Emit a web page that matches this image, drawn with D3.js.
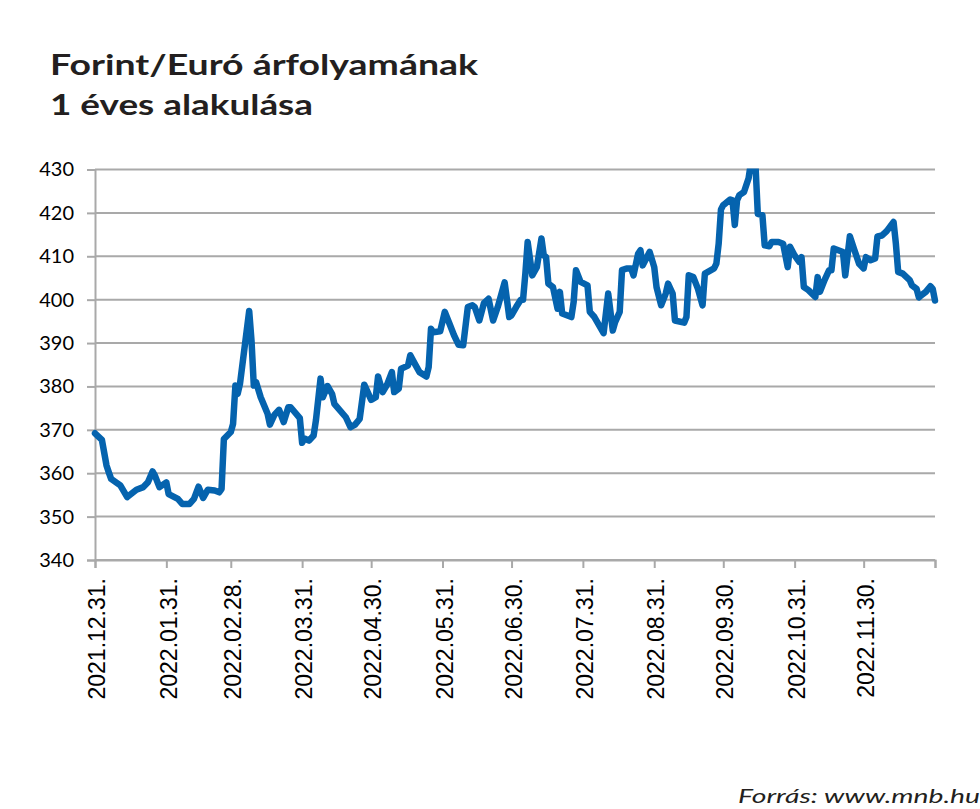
<!DOCTYPE html>
<html>
<head>
<meta charset="utf-8">
<script src="https://cdn.jsdelivr.net/npm/d3@7/dist/d3.min.js"></script>
<style>
  body { margin: 0; background: #fff; }
</style>
</head>
<body>
<svg id="chart" width="980" height="809"></svg>
<script>
// napi EUR/HUF árfolyam (leolvasva)
var dates = [
  "2021-12-31","2022-01-03","2022-01-05","2022-01-06","2022-01-07","2022-01-11","2022-01-14","2022-01-18",
  "2022-01-21","2022-01-23","2022-01-25","2022-01-26","2022-01-28","2022-01-31","2022-02-01","2022-02-05",
  "2022-02-07","2022-02-10","2022-02-12","2022-02-14","2022-02-16","2022-02-18","2022-02-21","2022-02-23",
  "2022-02-24","2022-02-25","2022-02-28","2022-03-01","2022-03-02","2022-03-03","2022-03-04","2022-03-08",
  "2022-03-09","2022-03-10","2022-03-11","2022-03-13","2022-03-16","2022-03-17","2022-03-19","2022-03-21",
  "2022-03-23","2022-03-25","2022-03-26","2022-03-30","2022-03-31","2022-04-01","2022-04-03","2022-04-05",
  "2022-04-06","2022-04-08","2022-04-09","2022-04-11","2022-04-13","2022-04-14","2022-04-19","2022-04-21",
  "2022-04-23","2022-04-25","2022-04-27","2022-04-30","2022-05-02","2022-05-03","2022-05-05","2022-05-07",
  "2022-05-09","2022-05-10","2022-05-12","2022-05-13","2022-05-16","2022-05-17","2022-05-19","2022-05-21",
  "2022-05-24","2022-05-25","2022-05-26","2022-05-27","2022-05-30","2022-06-01","2022-06-03","2022-06-05",
  "2022-06-07","2022-06-09","2022-06-11","2022-06-13","2022-06-14","2022-06-16","2022-06-18","2022-06-20",
  "2022-06-22","2022-06-24","2022-06-27","2022-06-29","2022-06-30","2022-07-02","2022-07-04","2022-07-05",
  "2022-07-06","2022-07-07","2022-07-09","2022-07-11","2022-07-13","2022-07-14","2022-07-15","2022-07-16",
  "2022-07-18","2022-07-20","2022-07-21","2022-07-22","2022-07-26","2022-07-27","2022-07-28","2022-07-30",
  "2022-08-02","2022-08-03","2022-08-05","2022-08-09","2022-08-11","2022-08-13","2022-08-14","2022-08-16",
  "2022-08-17","2022-08-19","2022-08-21","2022-08-22","2022-08-24","2022-08-25","2022-08-26","2022-08-29",
  "2022-08-31","2022-09-01","2022-09-03","2022-09-05","2022-09-06","2022-09-08","2022-09-09","2022-09-13",
  "2022-09-14","2022-09-15","2022-09-17","2022-09-19","2022-09-21","2022-09-22","2022-09-26","2022-09-27",
  "2022-09-28","2022-09-29","2022-09-30","2022-10-01","2022-10-03","2022-10-04","2022-10-05","2022-10-06",
  "2022-10-07","2022-10-09","2022-10-11","2022-10-12","2022-10-13","2022-10-14","2022-10-15","2022-10-17",
  "2022-10-18","2022-10-20","2022-10-21","2022-10-24","2022-10-26","2022-10-28","2022-10-29","2022-10-31",
  "2022-11-02","2022-11-03","2022-11-04","2022-11-06","2022-11-09","2022-11-10","2022-11-11","2022-11-13",
  "2022-11-15","2022-11-16","2022-11-17","2022-11-19","2022-11-21","2022-11-22","2022-11-24","2022-11-26",
  "2022-11-28","2022-11-30","2022-12-01","2022-12-03","2022-12-05","2022-12-06","2022-12-08","2022-12-10",
  "2022-12-13","2022-12-14","2022-12-15","2022-12-17","2022-12-20","2022-12-21","2022-12-23","2022-12-24",
  "2022-12-25","2022-12-27","2022-12-29","2022-12-30","2022-12-31"
];

var values = [
  369.2,367.7,361.8,360.2,358.7,357.2,354.5,356.2,
  356.8,357.9,360.4,359.5,356.8,357.9,355.2,354.1,
  352.9,352.9,354.1,356.9,354.3,356.2,356.0,355.6,
  356.4,367.9,369.5,371.4,380.2,378.3,380.6,397.4,
  390.6,380.2,381.0,377.5,373.7,371.2,373.5,374.6,
  371.8,375.2,375.2,372.7,367.0,368.0,367.5,368.7,
  372.2,381.8,377.5,380.1,378.3,376.0,372.9,370.6,
  371.2,372.5,380.4,376.9,377.5,382.3,378.7,380.5,
  383.3,378.7,379.5,384.1,384.8,387.2,385.2,383.3,
  382.3,384.5,393.3,392.5,392.7,397.2,394.5,391.8,
  389.6,389.5,398.3,398.7,398.3,395.2,399.2,400.2,
  395.2,398.3,404.0,396.0,396.4,398.3,400.0,400.0,
  406.0,413.3,405.6,407.5,414.1,410.2,409.8,403.7,
  402.9,397.9,401.8,396.8,396.0,399.5,406.8,404.1,
  403.3,397.2,396.0,392.3,401.4,392.9,394.8,397.2,
  406.8,407.2,407.2,405.6,410.6,411.4,407.9,411.0,
  407.5,402.9,398.7,401.4,403.7,401.4,395.2,394.7,
  396.0,405.6,405.2,402.5,398.7,406.0,407.2,408.3,
  412.9,420.8,421.8,422.2,423.1,422.9,417.2,422.9,
  424.1,424.8,428.0,431.5,432.5,431.0,419.8,419.5,
  412.5,412.3,413.3,413.3,412.9,407.5,412.2,410.2,
  408.7,409.8,402.9,402.2,400.6,405.2,401.8,404.5,
  406.8,406.8,411.8,411.4,411.0,405.6,414.6,411.4,
  408.3,407.2,409.8,409.1,409.5,414.6,414.8,415.8,
  417.9,412.9,406.4,406.0,404.5,403.3,402.5,400.5,
  401.0,401.8,403.1,402.5,399.8
];

var yTicks = [340, 350, 360, 370, 380, 390, 400, 410, 420, 430];
var xTicks = ["2021-12-31","2022-01-31","2022-02-28","2022-03-31","2022-04-30","2022-05-31",
              "2022-06-30","2022-07-31","2022-08-31","2022-09-30","2022-10-31","2022-11-30","2022-12-31"];

var parse = d3.timeParse("%Y-%m-%d"),
    fmt = d3.timeFormat("%Y.%m.%d."),
    lastTick = parse("2022-12-31");

var data = dates.map(function(d, i){ return { date: parse(d), value: values[i] }; });

var svg = d3.select("#chart");

var x = d3.scaleTime()
  .domain([parse("2021-12-31"), parse("2022-12-31")])
  .range([95, 935]);

var y = d3.scaleLinear()
  .domain([340, 430])
  .range([560, 169.5]);

// cím
var title = svg.append("g")
  .style("font-family", "Lato, 'Open Sans', sans-serif")
  .style("font-weight", "700")
  .style("font-size", "29px")
  .style("fill", "#231f20");

title.append("text").attr("x", 50).attr("y", 75)
  .attr("textLength", 428).attr("lengthAdjust", "spacingAndGlyphs")
  .text("Forint/Euró árfolyamának");
title.append("text").attr("x", 50).attr("y", 115)
  .attr("textLength", 263).attr("lengthAdjust", "spacingAndGlyphs")
  .text("1 éves alakulása");

// rácsvonalak
svg.append("g")
  .selectAll("line")
  .data(yTicks)
  .enter().append("line")
  .attr("x1", 95).attr("x2", 935)
  .attr("y1", function(d){ return y(d); })
  .attr("y2", function(d){ return y(d); })
  .style("stroke", "#a9a9a9")
  .style("stroke-width", 2);

// y tengely
var yAxis = svg.append("g")
  .attr("transform", "translate(95,0)")
  .call(d3.axisLeft(y).tickValues(yTicks).tickSize(8).tickPadding(13).tickFormat(d3.format("d")));

yAxis.select(".domain").style("stroke", "#a9a9a9").style("stroke-width", 2);
yAxis.selectAll(".tick line").style("stroke", "#a9a9a9").style("stroke-width", 2);
yAxis.selectAll(".tick text")
  .style("font-family", "Lato, Carlito, sans-serif")
  .style("font-size", "20px")
  .style("fill", "#000");

// x tengely
var xAxis = svg.append("g")
  .attr("transform", "translate(0,560)")
  .call(d3.axisBottom(x)
    .tickValues(xTicks.map(parse))
    .tickSize(8)
    .tickFormat(function(d){ return +d === +lastTick ? "" : fmt(d); }));

xAxis.select(".domain").style("stroke", "#a9a9a9").style("stroke-width", 2);
xAxis.selectAll(".tick line").style("stroke", "#a9a9a9").style("stroke-width", 2);
xAxis.selectAll(".tick text")
  .style("font-family", "'Liberation Sans', Arial, sans-serif")
  .style("font-size", "23px")
  .style("fill", "#000")
  .attr("text-anchor", "end")
  .attr("transform", "translate(0,18) rotate(-90)")
  .attr("x", 0).attr("y", 0)
  .attr("dy", "0.42em");

// vonal
svg.append("clipPath").attr("id", "plot-clip")
  .append("rect")
  .attr("x", 80).attr("y", y(430) - 1)
  .attr("width", 880).attr("height", 410);

var line = d3.line()
  .x(function(d){ return x(d.date); })
  .y(function(d){ return y(d.value); });

svg.append("path")
  .datum(data)
  .attr("clip-path", "url(#plot-clip)")
  .attr("d", line)
  .style("fill", "none")
  .style("stroke", "#0563ae")
  .style("stroke-width", 6.5)
  .style("stroke-linejoin", "round")
  .style("stroke-linecap", "round");

// forrás
svg.append("text")
  .attr("x", 738).attr("y", 803)
  .attr("textLength", 242).attr("lengthAdjust", "spacingAndGlyphs")
  .style("font-family", "Lato, 'Open Sans', sans-serif")
  .style("font-style", "italic")
  .style("font-size", "20px")
  .style("fill", "#231f20")
  .text("Forrás: www.mnb.hu");
</script>
</body>
</html>
